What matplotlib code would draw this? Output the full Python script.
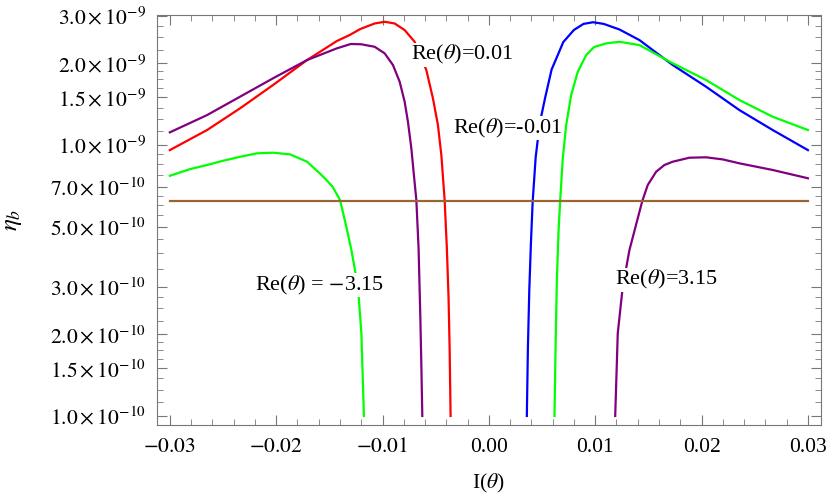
import numpy as np
import matplotlib
matplotlib.use("Agg")
import matplotlib.pyplot as plt
from matplotlib.ticker import FixedLocator, NullFormatter

plt.rcParams['font.family'] = ['Liberation Serif', 'DejaVu Serif']
plt.rcParams['mathtext.fontset'] = 'stix'

# values (x = Im(theta), y = eta_b)
red_x = [-0.0300, -0.0265, -0.0234, -0.0203, -0.0171, -0.0143, -0.0131, -0.0121, -0.01074,
         -0.0098, -0.00886, -0.00792, -0.00698, -0.00588, -0.00526, -0.00479, -0.00447,
         -0.00416, -0.00395, -0.00379, -0.00369, -0.0036]
red_y = [9.58e-10, 1.136e-9, 1.366e-9, 1.665e-9, 2.059e-9, 2.42e-9, 2.546e-9, 2.68e-9, 2.81e-9,
         2.851e-9, 2.81e-9, 2.657e-9, 2.405e-9, 1.891e-9, 1.487e-9, 1.185e-9, 9.19e-10,
         6.27e-10, 4.16e-10, 2.72e-10, 1.777e-10, 1.0e-10]

purple_l_x = [-0.0300, -0.0265, -0.0234, -0.0203, -0.0171, -0.0143, -0.0130, -0.0120,
              -0.01074, -0.0098, -0.00902, -0.00839, -0.00792, -0.00761, -0.00729, -0.00705,
              -0.00682, -0.00661, -0.00645, -0.00635, -0.00626]
purple_l_y = [1.114e-9, 1.29e-9, 1.508e-9, 1.763e-9, 2.059e-9, 2.274e-9, 2.36e-9, 2.355e-9,
              2.305e-9, 2.18e-9, 1.974e-9, 1.713e-9, 1.445e-9, 1.219e-9, 9.72e-10, 7.75e-10,
              6.27e-10, 4.16e-10, 2.36e-10, 1.543e-10, 1.0e-10]

green_l_x = [-0.0300, -0.0281, -0.0265, -0.0250, -0.0234, -0.0218, -0.0203, -0.0187, -0.0171,
             -0.0159, -0.0153, -0.0147, -0.0140, -0.0134, -0.01293, -0.01231, -0.01199, -0.01175]
green_l_y = [7.70e-10, 8.15e-10, 8.44e-10, 8.75e-10, 9.05e-10, 9.32e-10, 9.37e-10, 9.24e-10, 8.68e-10,
             7.86e-10, 7.45e-10, 7.02e-10, 6.27e-10, 4.99e-10, 4.10e-10, 3.00e-10, 2.02e-10, 1.0e-10]

blue_x = [0.00357, 0.00367, 0.0038, 0.00395, 0.00412, 0.0044, 0.00478, 0.0053, 0.0059, 0.0070,
          0.0080, 0.0089, 0.0098, 0.0108, 0.01228, 0.01416, 0.01729, 0.02043, 0.02356,
          0.02669, 0.0300]
blue_y = [1.0e-10, 1.777e-10, 2.9e-10, 4.3e-10, 6.2e-10, 9.0e-10, 1.2e-9, 1.5e-9, 1.9e-9, 2.4e-9,
          2.66e-9, 2.8e-9, 2.84e-9, 2.8e-9, 2.67e-9, 2.44e-9, 1.974e-9, 1.641e-9, 1.346e-9,
          1.136e-9, 9.58e-10]

green_r_x = [0.00617, 0.00627, 0.00639, 0.00655, 0.00671, 0.00695, 0.00727, 0.00774, 0.00836,
             0.00915, 0.00990, 0.01103, 0.01228, 0.01416, 0.01729, 0.02043, 0.02356, 0.02669,
             0.0300]
green_r_y = [1.0e-10, 1.777e-10, 3.13e-10, 4.79e-10, 6.27e-10, 8.93e-10, 1.185e-9, 1.53e-9, 1.864e-9,
             2.148e-9, 2.30e-9, 2.373e-9, 2.405e-9, 2.339e-9, 2.003e-9, 1.738e-9, 1.466e-9,
             1.272e-9, 1.136e-9]

purple_r_x = [0.01188, 0.01212, 0.01259, 0.01322, 0.01442, 0.01494, 0.01573, 0.01651, 0.01729,
              0.01886, 0.02043, 0.0220, 0.02356, 0.02669, 0.0300]
purple_r_y = [1.0e-10, 2.02e-10, 3.0e-10, 4.10e-10, 6.2e-10, 7.12e-10, 7.97e-10, 8.44e-10, 8.68e-10,
              8.98e-10, 9.01e-10, 8.85e-10, 8.56e-10, 8.09e-10, 7.54e-10]

brown_x = [-0.03, 0.03]
brown_y = [6.2e-10, 6.2e-10]

ytick_vals = [1.0e-10, 1.5e-10, 2.0e-10, 3.0e-10, 5.0e-10, 7.0e-10, 1.0e-9, 1.5e-9, 2.0e-9, 3.0e-9]
ytick_labels = [r'$1.0\times10^{-10}$', r'$1.5\times10^{-10}$', r'$2.0\times10^{-10}$',
                r'$3.0\times10^{-10}$', r'$5.0\times10^{-10}$', r'$7.0\times10^{-10}$',
                r'$1.0\times10^{-9}$', r'$1.5\times10^{-9}$', r'$2.0\times10^{-9}$',
                r'$3.0\times10^{-9}$']
xtick_vals = [-0.03, -0.02, -0.01, 0.0, 0.01, 0.02, 0.03]
xtick_labels = [r'$-0.03$', r'$-0.02$', r'$-0.01$', '0.00', '0.01', '0.02', '0.03']

labels = ['Re($\\theta$)=0.01', 'Re($\\theta$)=-0.01', 'Re($\\theta$) = $-$3.15', 'Re($\\theta$)=3.15']
label_pos = [(-0.0073, 2.15e-9), (-0.0034, 1.156e-9), (-0.0220, 3.04e-10), (0.0119, 3.18e-10)]

fig = plt.figure(figsize=(8.3, 4.95), dpi=100)
ax = fig.add_axes([0.189, 0.1414, 0.8, 0.8283])

lw = 1.6
ax.plot(red_x, red_y, color='#ff0000', lw=lw)
ax.plot(purple_l_x, purple_l_y, color='#800080', lw=lw)
ax.plot(green_l_x, green_l_y, color='#00ff00', lw=lw)
ax.plot(blue_x, blue_y, color='#0000ff', lw=lw)
ax.plot(green_r_x, green_r_y, color='#00ff00', lw=lw)
ax.plot(purple_r_x, purple_r_y, color='#800080', lw=lw)
ax.plot(brown_x, brown_y, color='#996633', lw=lw)

ax.set_yscale('log')
ax.set_xlim(-0.03122, 0.03122)
ax.set_ylim(9.26e-11, 3.02e-9)

ax.yaxis.set_major_locator(FixedLocator(ytick_vals))
ax.set_yticklabels(ytick_labels)
minor = []
for a, b in zip(ytick_vals[:-1], ytick_vals[1:]):
    minor += list(np.linspace(a, b, 5)[1:-1])
ax.yaxis.set_minor_locator(FixedLocator(minor))
ax.yaxis.set_minor_formatter(NullFormatter())

ax.xaxis.set_major_locator(FixedLocator(xtick_vals))
ax.set_xticklabels(xtick_labels)
ax.xaxis.set_minor_locator(FixedLocator(np.arange(-0.030, 0.0301, 0.002)))

for s in ax.spines.values():
    s.set_color('#777777')
ax.tick_params(which='both', direction='in', top=True, right=True, color='#777777',
               labelsize=15.5, labelcolor='black')
ax.tick_params(which='major', length=7)
ax.tick_params(which='minor', length=4)
ax.tick_params(axis='y', pad=8)
ax.tick_params(axis='x', pad=9)

for t, (px, py) in zip(labels, label_pos):
    ax.text(px, py, t, fontsize=16, va='center', ha='left', zorder=5,
            bbox=dict(facecolor='white', edgecolor='none', pad=0.5))

ax.set_xlabel(r'I($\theta$)', fontsize=15.5)
ax.set_ylabel(r'$\eta_b$', fontsize=18)
ax.xaxis.set_label_coords(0.5, -0.115)
ax.yaxis.set_label_coords(-0.2, 0.5)

fig.savefig('out.png', dpi=100)
